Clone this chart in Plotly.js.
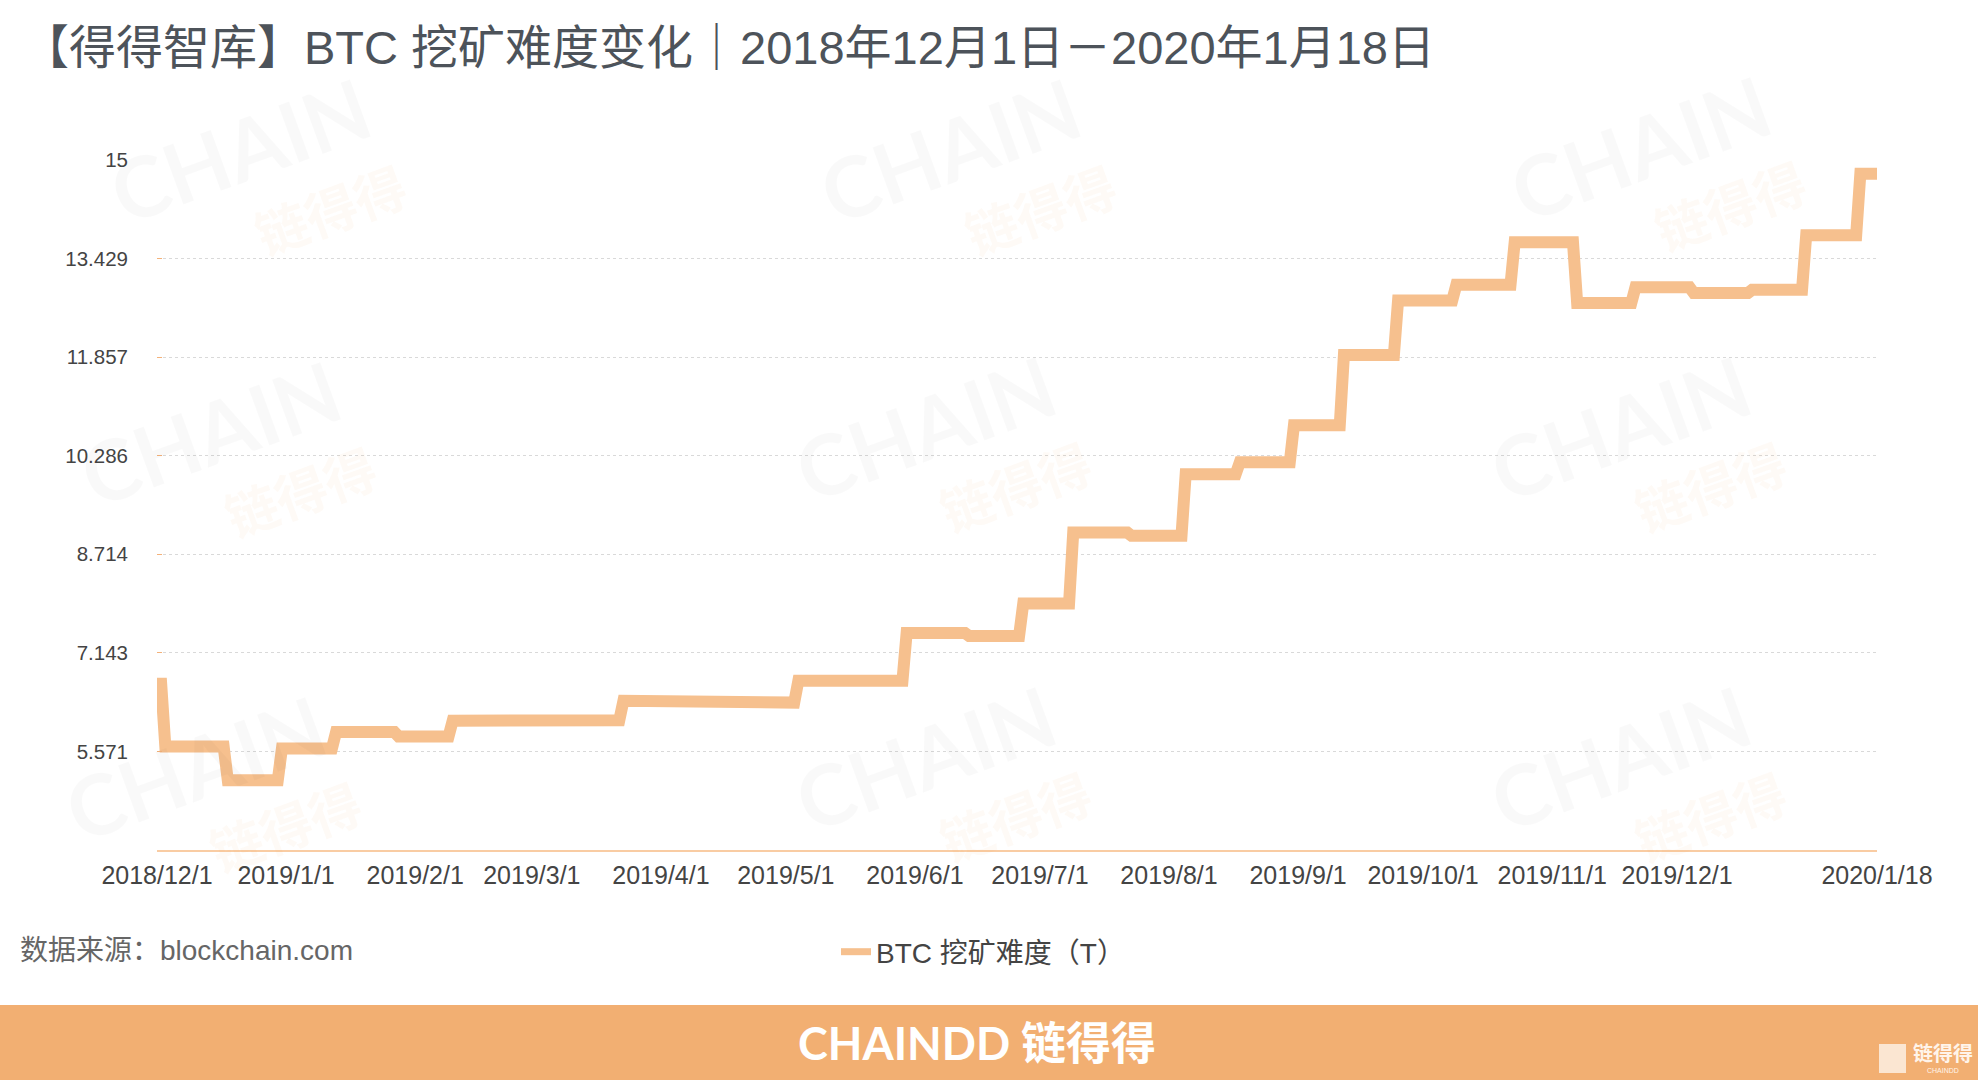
<!DOCTYPE html>
<html><head><meta charset="utf-8">
<script src="https://cdn.plot.ly/plotly-3.0.1.min.js"></script>
<style>html,body{margin:0;padding:0;background:#fff;} #chart{width:1978px;height:1080px;}</style>
</head><body><div id="chart"></div>
<script>
// BTC mining difficulty (T), daily values at each adjustment (last day of old level, first day of new level)
const dates = [
  '2018-12-01','2018-12-02','2018-12-03','2018-12-17','2018-12-18','2018-12-30','2018-12-31',
  '2019-01-12','2019-01-13','2019-01-27','2019-01-28','2019-02-09','2019-02-10','2019-02-23','2019-02-24',
  '2019-03-22','2019-03-23','2019-04-05','2019-04-06','2019-04-20','2019-04-21','2019-05-03','2019-05-04',
  '2019-05-29','2019-05-30','2019-06-13','2019-06-14','2019-06-26','2019-06-27','2019-07-08','2019-07-09',
  '2019-07-22','2019-07-23','2019-08-04','2019-08-05','2019-08-17','2019-08-18','2019-08-30','2019-08-31',
  '2019-09-11','2019-09-12','2019-09-24','2019-09-25','2019-10-08','2019-10-09','2019-10-22','2019-10-23',
  '2019-11-06','2019-11-07','2019-11-20','2019-11-21','2019-12-04','2019-12-05','2019-12-18','2019-12-19',
  '2019-12-31','2020-01-01','2020-01-13','2020-01-14','2020-01-18'
];
const difficulty = [
  6.65,6.65,5.65,5.65,5.11,5.11,5.62,
  5.62,5.88,5.88,5.81,5.81,6.06,6.06,6.07,
  6.07,6.38,6.38,6.39,6.39,6.35,6.35,6.70,
  6.70,7.46,7.46,7.41,7.41,7.93,7.93,9.06,
  9.06,9.01,9.01,9.99,9.99,10.18,10.18,10.77,
  10.77,11.89,11.89,12.76,12.76,13.01,13.01,13.69,
  13.69,12.72,12.72,12.97,12.97,12.88,12.88,12.93,
  12.93,13.80,13.80,14.78,14.78
];
const xTickVals = ['2018-12-01','2019-01-01','2019-02-01','2019-03-01','2019-04-01','2019-05-01','2019-06-01',
  '2019-07-01','2019-08-01','2019-09-01','2019-10-01','2019-11-01','2019-12-01','2020-01-18'];
const xTickText = ['2018/12/1','2019/1/1','2019/2/1','2019/3/1','2019/4/1','2019/5/1','2019/6/1',
  '2019/7/1','2019/8/1','2019/9/1','2019/10/1','2019/11/1','2019/12/1','2020/1/18'];
const yTickVals = [5.5714, 7.1429, 8.7143, 10.2857, 11.8571, 13.4286, 15];
const yTickText = ['5.571','7.143','8.714','10.286','11.857','13.429','15'];
const seriesName = 'BTC 挖矿难度（T）';
const titleText = '【得得智库】BTC 挖矿难度变化｜2018年12月1日－2020年1月18日';
const sourceText = '数据来源：blockchain.com';

const W = 1978, H = 1080;
const L = 157, R = 1877, T = 160, B = 850;
const xp = px => (px - L) / (R - L);
const yp = py => (B - py) / (B - T);
const FONT = 'Liberation Sans, Noto Sans CJK SC, sans-serif';

const annotations = [];
// watermarks
const wm = [[300,128],[1010,128],[1700,125],[270,410],[985,405],[1680,405],[255,745],[985,735],[1680,735]];
wm.forEach(([x,y]) => {
  annotations.push({xref:'paper', yref:'paper', x: xp(x), y: yp(y), xanchor:'center', yanchor:'middle', showarrow:false, textangle:-20,
    text:'CHAIN<span style="color:rgba(240,150,80,0.07)">DD</span>',
    font:{family:'Lato, sans-serif', size:84, color:'rgba(0,0,0,0.025)', weight:'bold'}});
  annotations.push({xref:'paper', yref:'paper', x: xp(x+30), y: yp(y+80), xanchor:'center', yanchor:'middle', showarrow:false, textangle:-20,
    text:'链得得', font:{family:'Noto Sans CJK SC', size:52, color:'rgba(240,150,80,0.05)', weight:'bold'}});
});
annotations.push({xref:'paper', yref:'paper', x: xp(18), y: yp(950), xanchor:'left', yanchor:'middle', showarrow:false,
  text: sourceText, font:{family:FONT, size:28, color:'#666'}});
annotations.push({xref:'paper', yref:'paper', x: xp(977), y: yp(1043), xanchor:'center', yanchor:'middle', showarrow:false,
  text: 'CHAINDD 链得得', font:{family:'Lato, Noto Sans CJK SC, sans-serif', size:45, color:'#ffffff', weight:'bold'}});
annotations.push({xref:'paper', yref:'paper', x: xp(1943), y: yp(1052), xanchor:'center', yanchor:'middle', showarrow:false,
  text: '链得得', font:{family:'Noto Sans CJK SC', size:20, color:'#fff4ea', weight:'bold'}});
annotations.push({xref:'paper', yref:'paper', x: xp(1943), y: yp(1070), xanchor:'center', yanchor:'middle', showarrow:false,
  text: 'CHAINDD', font:{family:FONT, size:7, color:'#fff4ea'}});

const shapes = [
  {type:'rect', xref:'paper', yref:'paper', x0: xp(0), x1: xp(W), y0: yp(H), y1: yp(1005), fillcolor:'#F2AF72', line:{width:0}, layer:'below'},
  {type:'rect', xref:'paper', yref:'paper', x0: xp(1879), x1: xp(1906), y0: yp(1073), y1: yp(1044), fillcolor:'#FBE6D2', line:{width:0}}
];

const trace = {
  type:'scatter', mode:'lines', x: dates, y: difficulty, name: seriesName, showlegend:false, legendgroup:'d',
  line:{color:'#F6C08E', width:12}, hoverinfo:'skip'
};
// legend entry for the same series (thinner legend stroke as in the original)
const legendTrace = {
  type:'scatter', mode:'lines', x:[null], y:[null], name: seriesName, legendgroup:'d',
  line:{color:'#F6C08E', width:7}, hoverinfo:'skip'
};

const layout = {
  width: W, height: H,
  margin:{l:L, r:W-R, t:T, b:H-B},
  paper_bgcolor:'#ffffff', plot_bgcolor:'rgba(0,0,0,0)',
  font:{family:FONT, color:'#555'},
  title:{text: titleText, xref:'container', yref:'container', x: 22/W, xanchor:'left', y: 1-48/H, yanchor:'middle',
    font:{family:FONT, size:47, color:'#4d535a'}},
  xaxis:{type:'date', range:['2018-12-01','2020-01-18'], tickvals: xTickVals, ticktext: xTickText,
    showgrid:false, zeroline:false, showline:true, linecolor:'#F9CCA3', linewidth:2, ticks:'',
    tickfont:{family:FONT, size:25, color:'#444'}, ticklabelstandoff: 2, fixedrange:true},
  yaxis:{range:[4,15], tickvals: yTickVals, ticktext: yTickText, showgrid:true, gridcolor:'#d9d9d9', griddash:'dot', gridwidth:1,
    zeroline:false, showline:false, ticks:'inside', ticklen:5, tickcolor:'#F4B27A', tickwidth:1,
    tickfont:{family:FONT, size:20.5, color:'#444'}, ticklabelstandoff: 28, fixedrange:true},
  showlegend:true,
  legend:{orientation:'h', xref:'container', yref:'container', x: 836/W, xanchor:'left', y: 1-952/H, yanchor:'middle',
    font:{family:FONT, size:28, color:'#444'}, itemwidth:30, bgcolor:'rgba(0,0,0,0)'},
  annotations, shapes
};

Plotly.newPlot('chart', [trace, legendTrace], layout, {displayModeBar:false, staticPlot:true});
</script></body></html>
